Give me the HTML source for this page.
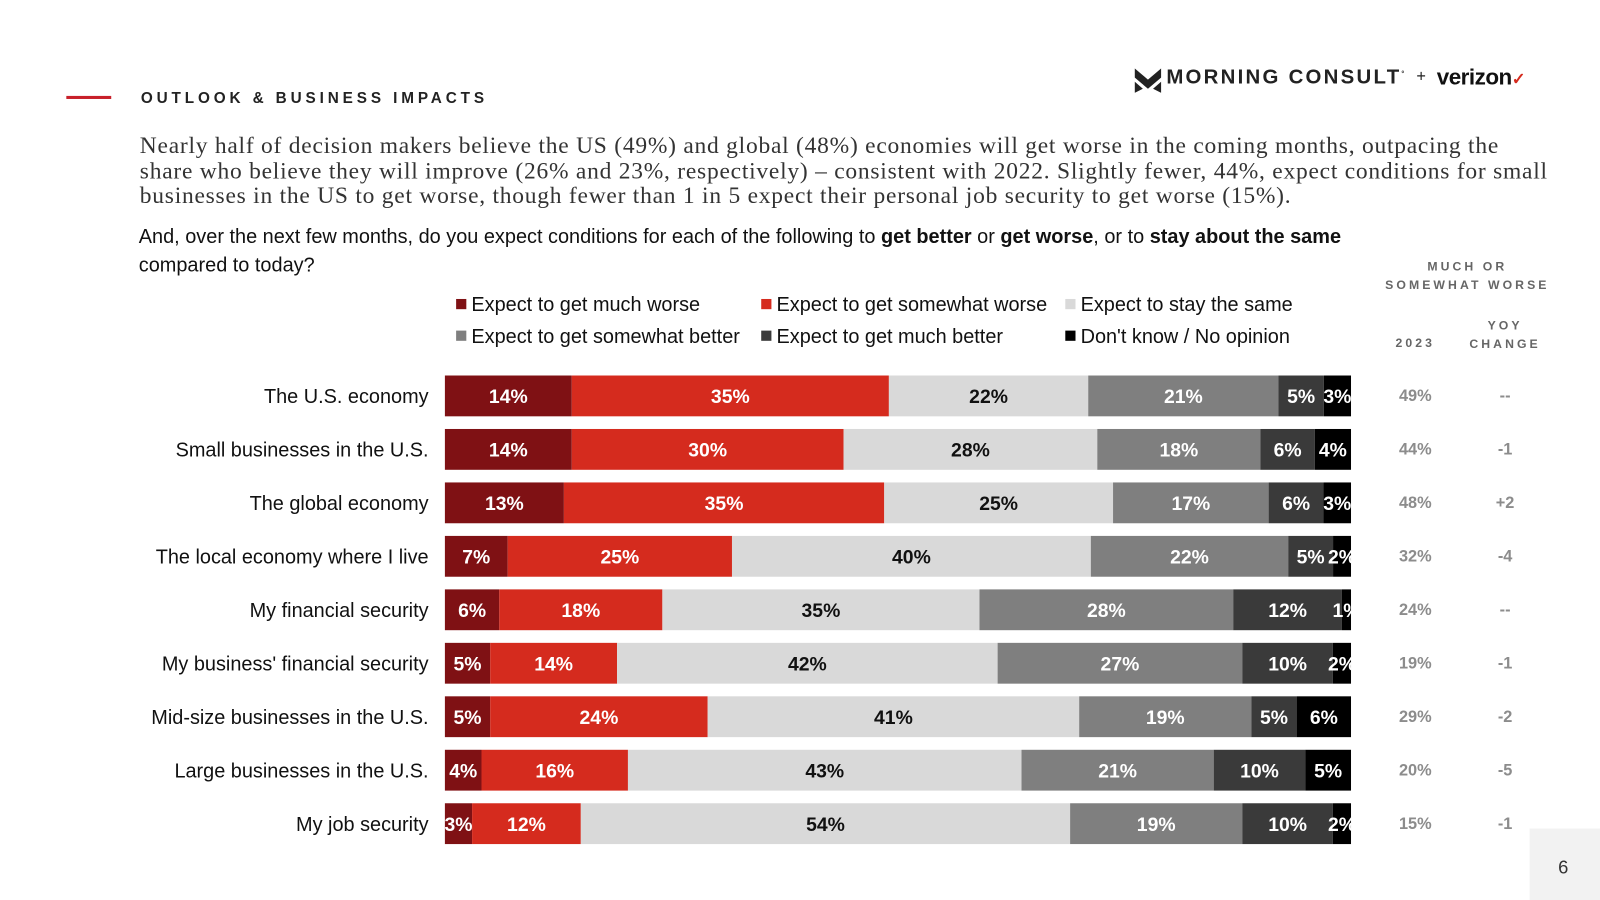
<!DOCTYPE html>
<html><head><meta charset="utf-8"><style>
body{margin:0;width:1600px;height:900px;background:#fff;position:relative;overflow:hidden;font-family:"Liberation Sans",Arial,sans-serif}
#wrap{position:absolute;left:0;top:0;width:1568px;height:882px;transform:scale(1.0204);transform-origin:0 0}
.abs{position:absolute}
</style></head><body>
<div id="wrap">
<div class="abs" style="left:65px;top:94px;width:44px;height:3px;background:#c8202a"></div>
<div class="abs" style="left:138px;top:88px;font-size:15px;letter-spacing:3.8px;color:#222;font-weight:bold">OUTLOOK &amp; BUSINESS IMPACTS</div>
<div class="abs" style="left:1112px;top:64px;width:400px;height:28px">
<svg width="26" height="24" style="position:absolute;left:0;top:3px"><path d="M0 0 L13 11 L26 0 L26 9 L13 20 L0 9Z" fill="#222"/><path d="M0 13 L8 20 L0 24Z M26 13 L18 20 L26 24Z" fill="#222"/></svg>
<span style="position:absolute;left:31px;top:1px;font-size:20px;font-weight:bold;letter-spacing:2.2px;color:#222">MORNING CONSULT<sup style="font-size:7px">°</sup></span>
<span style="position:absolute;left:276px;top:3px;font-size:16px;color:#222">+</span>
<span style="position:absolute;left:296px;top:-1px;font-size:22px;font-weight:bold;color:#111;letter-spacing:-0.5px">verizon<span style="color:#d52b1e;font-size:16px">✓</span></span>
</div>
<div class="abs" style="left:137px;top:131px;white-space:nowrap;font-family:'Liberation Serif',serif;font-size:23px;letter-spacing:0.75px;line-height:24.5px;color:#333">Nearly half of decision makers believe the US (49%) and global (48%) economies will get worse in the coming months, outpacing the<br>share who believe they will improve (26% and 23%, respectively) – consistent with 2022. Slightly fewer, 44%, expect conditions for small<br>businesses in the US to get worse, though fewer than 1 in 5 expect their personal job security to get worse (15%).</div>
<div class="abs" style="left:136px;top:218px;white-space:nowrap;font-size:19.5px;line-height:28px;color:#111">And, over the next few months, do you expect conditions for each of the following to <b>get better</b> or <b>get worse</b>, or to <b>stay about the same</b><br>compared to today?</div>
<div class="abs" style="left:1340px;top:252px;width:196px;text-align:center;font-size:12px;font-weight:bold;letter-spacing:3px;line-height:18px;color:#666">MUCH OR<br>SOMEWHAT WORSE</div>
<div class="abs" style="left:1360px;top:329px;width:54px;text-align:center;font-size:12px;font-weight:bold;letter-spacing:3px;color:#666">2023</div>
<div class="abs" style="left:1430px;top:310px;width:90px;text-align:center;font-size:12px;font-weight:bold;letter-spacing:3px;line-height:18px;color:#666">YOY<br>CHANGE</div>
<div class="abs" style="left:1499px;top:812px;width:70px;height:70px;background:#f2f2f2"></div>
<div class="abs" style="left:1527px;top:840px;font-size:18px;color:#333">6</div>
<svg id="chart" class="abs" style="left:0;top:0" width="1568" height="882"></svg>
</div>
<script>
const categories=["The U.S. economy","Small businesses in the U.S.","The global economy","The local economy where I live","My financial security","My business' financial security","Mid-size businesses in the U.S.","Large businesses in the U.S.","My job security"];
const seriesNames=["Expect to get much worse","Expect to get somewhat worse","Expect to stay the same","Expect to get somewhat better","Expect to get much better","Don't know / No opinion"];
const muchWorse=[14,14,13,7,6,5,5,4,3];
const somewhatWorse=[35,30,35,25,18,14,24,16,12];
const staySame=[22,28,25,40,35,42,41,43,54];
const somewhatBetter=[21,18,17,22,28,27,19,21,19];
const muchBetter=[5,6,6,5,12,10,5,10,10];
const dontKnow=[3,4,3,2,1,2,6,5,2];
const worse2023=["49%","44%","48%","32%","24%","19%","29%","20%","15%"];
const yoyChange=["--","-1","+2","-4","--","-1","-2","-5","-1"];
const series=[muchWorse,somewhatWorse,staySame,somewhatBetter,muchBetter,dontKnow];
const colors=["#7f1114","#d52b1e","#d9d9d9","#7f7f7f","#3a3a3a","#000000"];
const textColors=["#fff","#fff","#111","#fff","#fff","#fff"];
const NS="http://www.w3.org/2000/svg";
const svg=document.getElementById('chart');
const x0=436,x1=1324,y0=388,rowH=52.4,barH=40;
const xs=(v,tot)=>x0+(x1-x0)*v/tot;
const ys=i=>y0+i*rowH;
function mk(tag,attrs){const e=document.createElementNS(NS,tag);for(const k in attrs)e.setAttribute(k,attrs[k]);svg.appendChild(e);return e;}
const defs=mk('defs',{});
const cp=document.createElementNS(NS,'clipPath');cp.setAttribute('id','clip');
const cr=document.createElementNS(NS,'rect');cr.setAttribute('x',x0);cr.setAttribute('y',0);cr.setAttribute('width',x1-x0);cr.setAttribute('height',900);
cp.appendChild(cr);defs.appendChild(cp);
const legX=[447,746,1044],legY=[298,329];
seriesNames.forEach((n,s)=>{
  const lx=legX[s%3],ly=legY[Math.floor(s/3)];
  const r=mk('rect',{x:lx,y:ly-5,width:10,height:10,fill:colors[s]});
  
  
  const t=mk('text',{x:lx+15,y:ly+7,'font-size':19.5,fill:'#111'});t.textContent=n;
  
  
});
categories.forEach((c,i)=>{
  const y=ys(i);
  const t=mk('text',{x:420,y:y+7,'font-size':19.5,fill:'#111','text-anchor':'end'});t.textContent=c;
  
  
  const tot=series.reduce((a,s)=>a+s[i],0);
  let acc=0;
  series.forEach((s,k)=>{
    const v=s[i];const xa=xs(acc,tot),xb=xs(acc+v,tot);
    const r=mk('rect',{x:xa,y:y-barH/2,width:xb-xa,height:barH,fill:colors[k]});
    
    
    const lt=mk('text',{x:(xa+xb)/2,y:y+7,'font-size':19,'font-weight':'bold',fill:textColors[k],'text-anchor':'middle','clip-path':'url(#clip)'});
    lt.textContent=v+'%';
    
    
    acc+=v;
  });
  const a=mk('text',{x:1387,y:y+5,'font-size':16,'font-weight':'bold',fill:'#8c8c8c','text-anchor':'middle'});a.textContent=worse2023[i];
  
  
  const b=mk('text',{x:1475,y:y+5,'font-size':16,'font-weight':'bold',fill:'#8c8c8c','text-anchor':'middle'});b.textContent=yoyChange[i];
  
  
});
</script>
</body></html>
